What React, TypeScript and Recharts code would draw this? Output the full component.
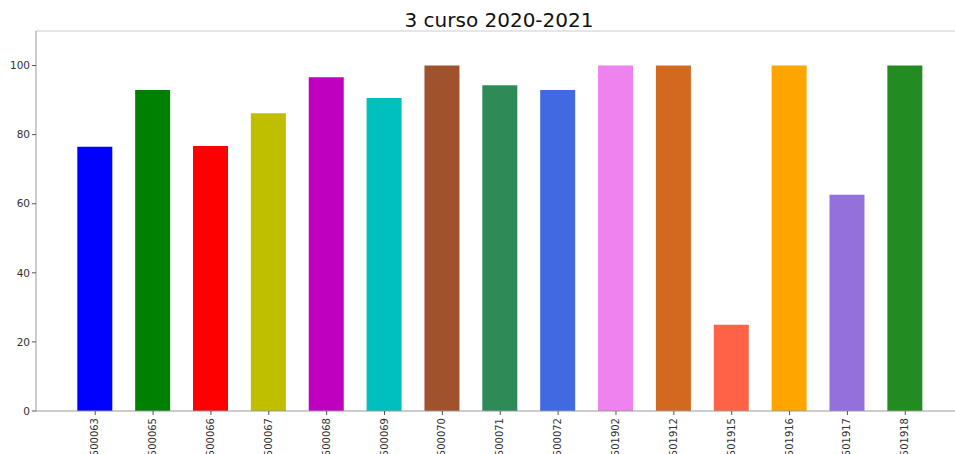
import React from "react";
import { BarChart, Bar, XAxis, YAxis, Cell, ReferenceLine } from "recharts";

const categories = ["500063", "500065", "500066", "500067", "500068", "500069", "500070", "500071", "500072", "501902", "501912", "501915", "501916", "501917", "501918"];
const values = [76.5, 92.9, 76.7, 86.2, 96.6, 90.6, 100, 94.3, 92.9, 100, 100, 25, 100, 62.6, 100];
const colors = ["#0000ff", "#008000", "#ff0000", "#bfbf00", "#bf00bf", "#00bfbf", "#a0522d", "#2e8b57", "#4169e1", "#ee82ee", "#d2691e", "#ff6347", "#ffa500", "#9370db", "#228b22"];
const yTicks = [0, 20, 40, 60, 80, 100];
const title = "3 curso 2020-2021";

const data = categories.map((c, i) => ({ name: c, value: values[i] }));

const FONT = "'DejaVu Sans', sans-serif";

const XTick = (props: any) => {
  const { x, y, payload } = props;
  return (
    <g transform={`translate(${x - 0.5},${y + 1})`}>
      <text transform="rotate(-90)" textAnchor="end" dominantBaseline="central" fontSize={10} fill="#333" fontFamily={FONT}>
        {payload.value}
      </text>
    </g>
  );
};

export default function App() {
  return (
    <div style={{ position: "fixed", left: 0, top: 0, width: 955, height: 454, overflow: "hidden", background: "#fff" }}>
      <div style={{ position: "absolute", left: 499 - 200, top: 8, width: 400, textAlign: "center", fontFamily: FONT, fontSize: 20, lineHeight: "24px", color: "#111" }}>{title}</div>
      <BarChart width={962} height={480} data={data} margin={{ top: 31, right: 0, bottom: 0, left: 0 }}>
        <XAxis dataKey="name" interval={0} padding={{ left: 30.3, right: 27.8 }} tick={<XTick />} tickSize={4} stroke="#999" height={69} tickLine={{ stroke: "#555" }} />
        <YAxis domain={[0, 110]} ticks={yTicks} width={36} tickSize={4} stroke="#999" tickLine={{ stroke: "#555" }} tick={{ fontSize: 10.5, fill: "#333", fontFamily: FONT }} allowDataOverflow />
        <ReferenceLine y={110} stroke="#ccc" strokeWidth={1} />
        <Bar dataKey="value" barSize={35} isAnimationActive={false}>
          {data.map((d, i) => (
            <Cell key={d.name} fill={colors[i]} />
          ))}
        </Bar>
      </BarChart>
    </div>
  );
}
